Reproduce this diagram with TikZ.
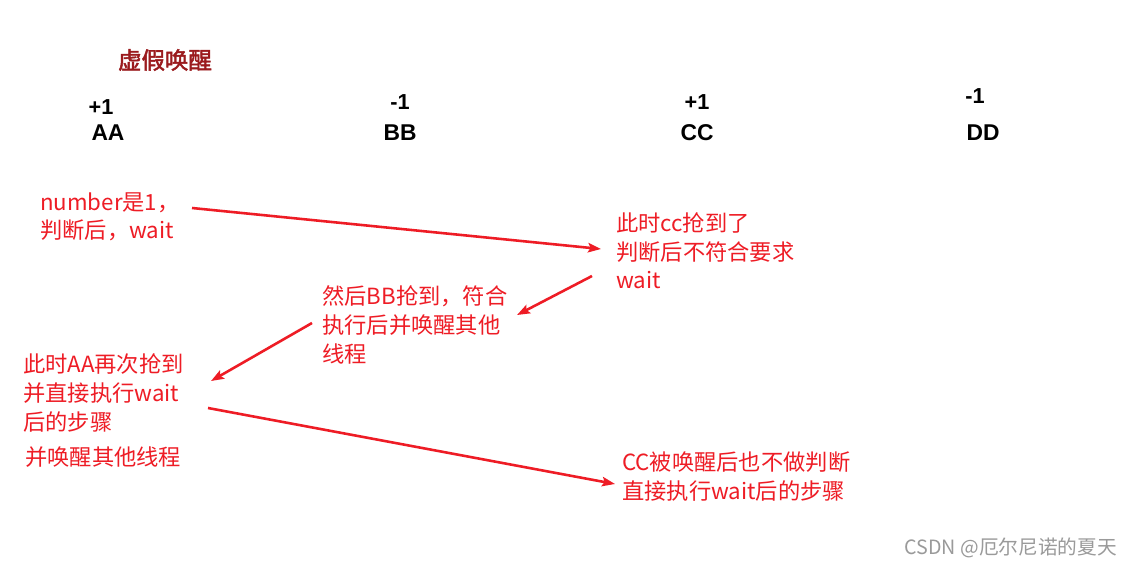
\documentclass[tikz,border=0pt]{standalone}
\usepackage{fontspec}
\usepackage{xcolor}
\usepackage{tikz}
\usetikzlibrary{arrows.meta,positioning}
\newfontfamily\cjk{Noto Sans CJK SC}
\newfontfamily\cjkbold[FakeBold=2]{Noto Sans CJK SC}
\newfontfamily\labsans{Liberation Sans}
\definecolor{noteRed}{HTML}{EE1C25}
\definecolor{titleRed}{HTML}{9B1B1E}
\definecolor{markGray}{HTML}{9A9A9A}
\tikzset{
  notetext/.style={anchor=west, align=left, inner sep=0pt, text=noteRed,
        font=\cjk\fontsize{19}{24.4}\selectfont},
  thrd/.style={inner sep=0pt, font=\labsans\bfseries\fontsize{19.5}{21}\selectfont},
  cnt/.style={inner sep=0pt, font=\labsans\bfseries\fontsize{18.5}{20}\selectfont},
  rarrow/.style={-{Stealth[length=11pt, width=8pt, inset=2pt]}, line width=2.2pt,
        draw=noteRed}
}

\begin{document}
\begin{tikzpicture}[x=0.03cm, y=-0.03cm]
\useasboundingbox[fill=white] (0,0) rectangle (1133,567);

% title
\node[inner sep=0pt, text=titleRed, font=\cjkbold\fontsize{20}{22}\selectfont]
      (title) at (165,60) {虚假唤醒};

% threads and counters
\node[thrd] (aa) at (108,133) {AA};
\node[thrd] (bb) at (400,133) {BB};
\node[thrd] (cc) at (697,133) {CC};
\node[thrd] (dd) at (983,133) {DD};
\node[cnt] (aainc) at (101,107) {+1};
\node[cnt] (bbdec) at (400,102) {-1};
\node[cnt] (ccinc) at (697,102) {+1};
\node[cnt] (dddec) at (975,96) {-1};

% notes
\node[notetext] (numnote) at (40,217) {number是1，\\判断后，wait};
\node[notetext] (ccnote) at (616,251) {此时cc抢到了\\判断后不符合要求\\wait};
\node[notetext] (bbnote) at (322,325) {然后BB抢到，符合\\执行后并唤醒其他\\线程};
\node[notetext] (aanote) at (23,393) {此时AA再次抢到\\并直接执行wait\\后的步骤};
\node[notetext] (aawake) at (25,457) {并唤醒其他线程};
\node[notetext] (ccwake) at (622,476.5) {CC被唤醒后也不做判断\\直接执行wait后的步骤};

% arrow ends
\coordinate (a1s) at (192,208);
\coordinate (a1e) at (601,249);
\coordinate (a2s) at (592,276);
\coordinate (a2e) at (517,315);
\coordinate (a3s) at (312,323);
\coordinate (a3e) at (211,381);
\coordinate (a4s) at (208,408);
\coordinate (a4e) at (615,484);

\draw[rarrow] (a1s) -- (a1e);
\draw[rarrow] (a2s) -- (a2e);
\draw[rarrow] (a3s) -- (a3e);
\draw[rarrow] (a4s) -- (a4e);

% watermark
\node[anchor=east, inner sep=0pt, text=markGray, font=\cjk\fontsize{16.8}{18}\selectfont]
      (mark) at (1117,548) {CSDN @厄尔尼诺的夏天};
\end{tikzpicture}
\end{document}
